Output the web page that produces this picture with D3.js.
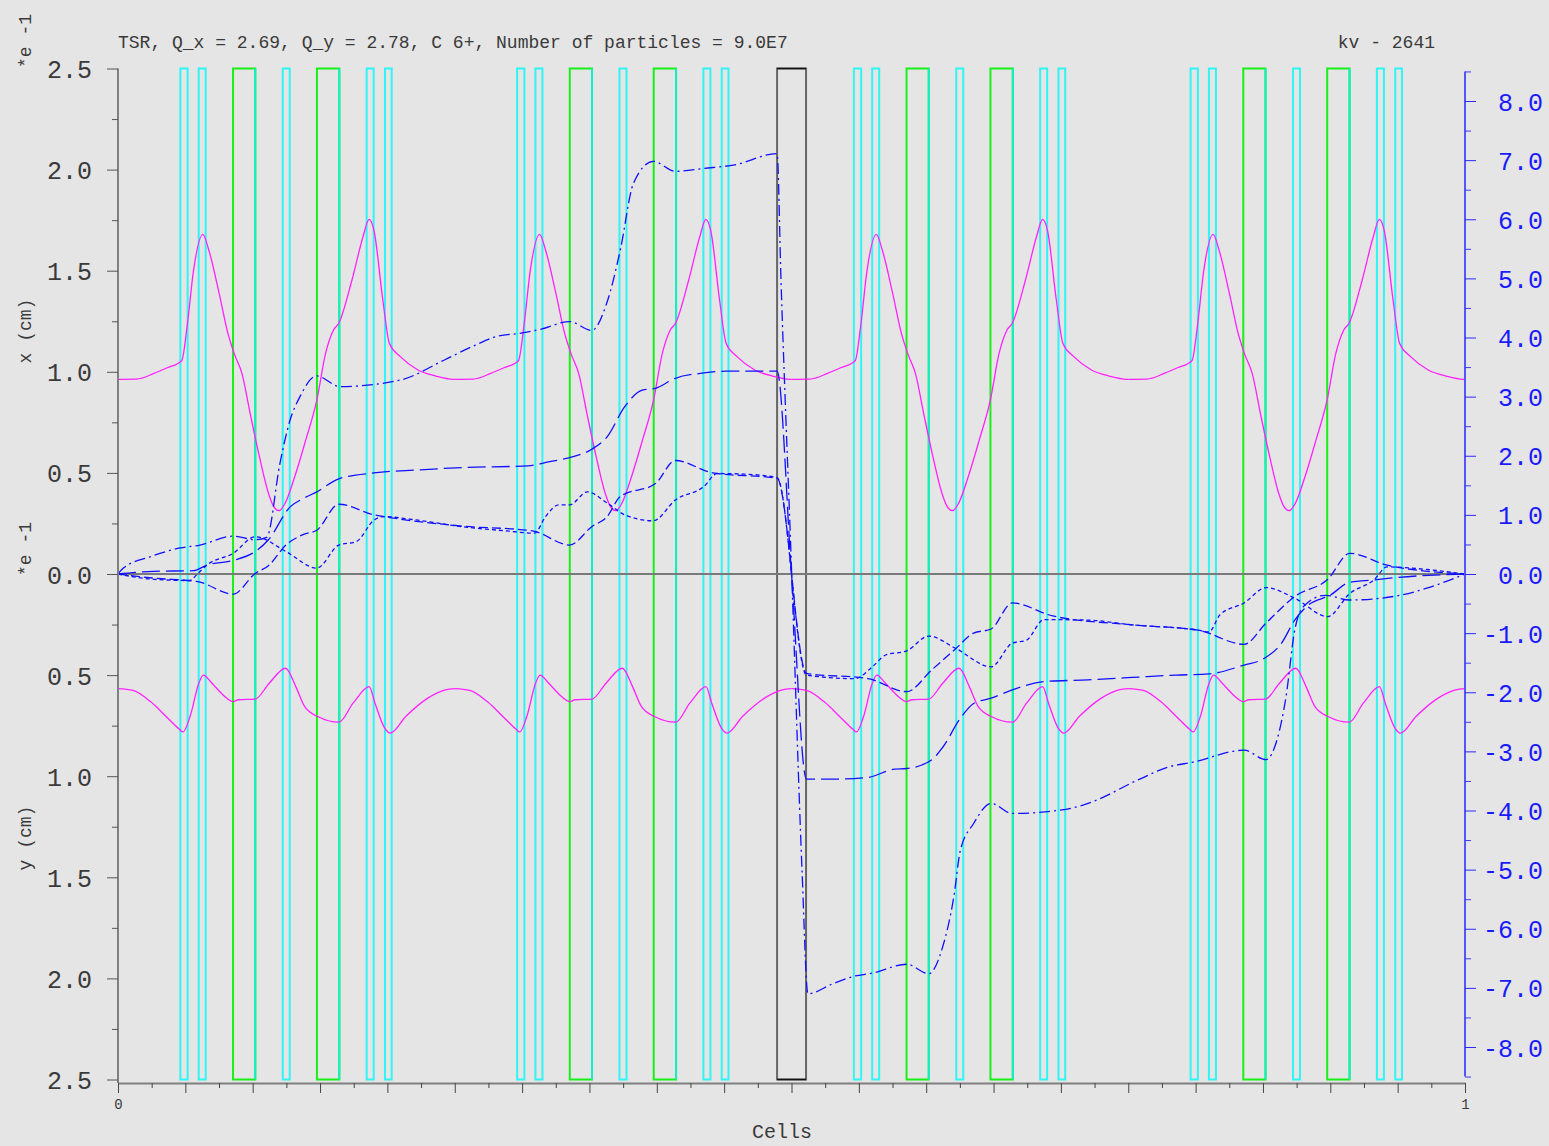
<!DOCTYPE html>
<meta charset="utf-8">
<head>
<style>
  body { margin: 0; background: #e5e5e5; }
  text { font-family: "Liberation Mono", "DejaVu Sans Mono", monospace; }
</style>
</head>
<body>
<div class="chart"></div>
<script src="https://d3js.org/d3.v7.min.js"></script>
<script>
// lattice: one cell, repeated 4 times around the ring
var cellOffsets = [0, 0.25, 0.5, 0.75];
var quadBoxes = [[0.0463, 0.0517], [0.0599, 0.0651], [0.1223, 0.1275], [0.1846, 0.1898], [0.1982, 0.2032]];
var dipoleBoxes = [[0.0854, 0.1019], [0.1477, 0.1643]];
var kickerBox = [0.4893, 0.5108];

// envelopes for one cell (e-1 cm)
var envX = [[0, 0.963], [0.0137, 0.964], [0.0267, 0.992], [0.0365, 1.02], [0.0473, 1.055], [0.0513, 1.223],
  [0.0561, 1.503], [0.063, 1.68], [0.0675, 1.6], [0.0751, 1.388], [0.0816, 1.19], [0.0865, 1.086], [0.092, 0.992],
  [0.0986, 0.778], [0.105, 0.58], [0.1117, 0.399], [0.1156, 0.333], [0.1195, 0.313], [0.124, 0.349], [0.1312, 0.481],
  [0.1394, 0.663], [0.1476, 0.86], [0.1541, 1.091], [0.16, 1.207], [0.1639, 1.24], [0.1737, 1.454], [0.1819, 1.668],
  [0.1864, 1.754], [0.19, 1.70], [0.1966, 1.355], [0.2015, 1.14], [0.2096, 1.075], [0.2227, 1.009], [0.2358, 0.979],
  [0.2488, 0.963], [0.25, 0.963]];
var envY = [[0, 0.567], [0.0111, 0.576], [0.0241, 0.631], [0.037, 0.713], [0.0454, 0.767], [0.0483, 0.781],
  [0.0535, 0.705], [0.06, 0.54], [0.0633, 0.50], [0.0698, 0.54], [0.078, 0.598], [0.0855, 0.631], [0.0894, 0.622],
  [0.1018, 0.619], [0.1123, 0.54], [0.1244, 0.466], [0.132, 0.557], [0.1385, 0.655], [0.1483, 0.705], [0.164, 0.733],
  [0.1745, 0.639], [0.1865, 0.557], [0.1908, 0.639], [0.198, 0.762], [0.2022, 0.787], [0.2136, 0.705], [0.23, 0.614],
  [0.243, 0.573], [0.25, 0.567]];

// orbit bumps (right axis)
var orbitDashDot = [[0, 0], [0.004, 0.1], [0.0237, 0.29], [0.0463, 0.44], [0.0608, 0.49], [0.0855, 0.64], [0.1019, 0.58],
  [0.1104, 0.62], [0.1203, 1.88], [0.1277, 2.6], [0.1351, 3.0], [0.1475, 3.35], [0.1648, 3.17], [0.2094, 3.28],
  [0.2423, 3.62], [0.2652, 3.87], [0.2815, 4.02], [0.2978, 4.07], [0.3141, 4.14], [0.3353, 4.27], [0.3517, 4.12],
  [0.3631, 4.6], [0.3729, 5.48], [0.3827, 6.61], [0.3974, 6.98], [0.4137, 6.81], [0.435, 6.86], [0.4578, 6.92],
  [0.4893, 7.11], [0.4922, 4.97], [0.5, 0.1], [0.5078, -5.0], [0.5122, -7.1], [0.5307, -6.93], [0.547, -6.8],
  [0.56, -6.75], [0.5855, -6.6], [0.6019, -6.76], [0.6123, -6.3], [0.6205, -5.46], [0.6254, -4.67], [0.6352, -4.22],
  [0.6482, -3.88], [0.6639, -4.05], [0.7038, -3.98], [0.7201, -3.88], [0.7593, -3.46], [0.7789, -3.27], [0.7984, -3.18],
  [0.836, -2.98], [0.8523, -3.14], [0.8605, -2.8], [0.8671, -2.08], [0.8736, -0.95], [0.8801, -0.55], [0.8964, -0.36],
  [0.9144, -0.44], [0.952, -0.36], [0.9716, -0.24], [1, 0]];
var orbitLongDash = [[0, 0], [0.0267, 0.045], [0.0561, 0.056], [0.0659, 0.15], [0.0855, 0.23], [0.1019, 0.38],
  [0.1117, 0.58], [0.128, 1.14], [0.1378, 1.28], [0.1476, 1.39], [0.1639, 1.61], [0.19, 1.71], [0.2227, 1.76],
  [0.2554, 1.8], [0.3044, 1.83], [0.3206, 1.9], [0.3353, 1.97], [0.3517, 2.11], [0.3631, 2.32], [0.3762, 2.83],
  [0.3892, 3.11], [0.399, 3.14], [0.4137, 3.31], [0.435, 3.4], [0.4513, 3.43], [0.4893, 3.43], [0.5, 0],
  [0.5111, -3.47], [0.5307, -3.47], [0.5568, -3.44], [0.5764, -3.3], [0.5855, -3.29], [0.6042, -3.14], [0.6123, -2.93],
  [0.6254, -2.44], [0.6352, -2.19], [0.6482, -2.1], [0.6639, -1.96], [0.6875, -1.82], [0.7201, -1.79], [0.7528, -1.75],
  [0.7854, -1.71], [0.8099, -1.69], [0.836, -1.54], [0.8508, -1.43], [0.8638, -1.17], [0.8736, -0.78], [0.8834, -0.53],
  [0.8998, -0.36], [0.9144, -0.14], [0.9324, -0.1], [0.9488, -0.06], [1, 0]];
var orbitDash = [[0, 0], [0.0267, -0.07], [0.0594, -0.13], [0.0855, -0.34], [0.1019, 0.01], [0.1117, 0.14],
  [0.1247, 0.49], [0.1378, 0.67], [0.1476, 0.74], [0.1639, 1.18], [0.19, 1.0], [0.2031, 0.95], [0.2554, 0.81],
  [0.3076, 0.73], [0.3353, 0.49], [0.3517, 0.8], [0.3631, 0.97], [0.3729, 1.31], [0.399, 1.53], [0.4137, 1.92],
  [0.4415, 1.71], [0.4893, 1.62], [0.5111, -1.68], [0.5568, -1.77], [0.5855, -1.99], [0.6042, -1.62], [0.6221, -1.26],
  [0.6352, -1.0], [0.6482, -0.93], [0.6639, -0.49], [0.694, -0.71], [0.7528, -0.86], [0.8018, -0.95], [0.836, -1.19],
  [0.8523, -0.83], [0.8736, -0.38], [0.8981, -0.09], [0.9144, 0.35], [0.9422, 0.15], [1, 0]];
var orbitShortDash = [[0, 0], [0.0267, -0.09], [0.0529, -0.11], [0.0594, 0.01], [0.0659, 0.15], [0.0855, 0.35],
  [0.1019, 0.63], [0.1247, 0.38], [0.1476, 0.1], [0.1639, 0.49], [0.177, 0.55], [0.19, 0.91], [0.1966, 0.97],
  [0.2227, 0.91], [0.2554, 0.8], [0.288, 0.73], [0.3092, 0.69], [0.3174, 0.97], [0.3272, 1.17], [0.3353, 1.17],
  [0.3484, 1.39], [0.3631, 1.2], [0.3762, 1.0], [0.3974, 0.9], [0.4137, 1.25], [0.435, 1.48], [0.4448, 1.7],
  [0.4644, 1.69], [0.4893, 1.63], [0.5111, -1.71], [0.547, -1.77], [0.56, -1.57], [0.5699, -1.37], [0.5855, -1.3],
  [0.6019, -1.05], [0.6221, -1.26], [0.6482, -1.57], [0.6639, -1.17], [0.6744, -1.12], [0.6875, -0.77], [0.7201, -0.78],
  [0.7528, -0.86], [0.8018, -0.95], [0.8099, -0.98], [0.8181, -0.69], [0.836, -0.49], [0.8523, -0.23], [0.8736, -0.41],
  [0.8981, -0.72], [0.9144, -0.33], [0.9324, -0.1], [0.9422, 0.12], [0.965, 0.09], [1, 0]];

var leftTicks = [-2.5, -2, -1.5, -1, -0.5, 0, 0.5, 1, 1.5, 2, 2.5];
var rightTicks = [-8, -7, -6, -5, -4, -3, -2, -1, 0, 1, 2, 3, 4, 5, 6, 7, 8];
var titleText = "TSR, Q_x = 2.69, Q_y = 2.78, C 6+, Number of particles = 9.0E7";
var runText = "kv - 2641";

var width = 1549, height = 1146;

var svg = d3.select(".chart").append("svg")
  .attr("width", width)
  .attr("height", height);

svg.append("rect").attr("width", width).attr("height", height).attr("fill", "#e5e5e5");

var x = d3.scaleLinear().domain([0, 1]).range([118, 1465]);
var yL = d3.scaleLinear().domain([-2.5, 2.5]).range([1079.5, 68.5]);
var yR = d3.scaleLinear().domain([-8.5, 8.5]).range([574 + 8.5 * 59.125, 574 - 8.5 * 59.125]);

// 要素の箱
var boxes = svg.append("g");
cellOffsets.forEach(function (off) {
  quadBoxes.forEach(function (b) {
    boxes.append("rect")
      .attr("x", x(off + b[0])).attr("y", yL(2.5))
      .attr("width", x(off + b[1]) - x(off + b[0])).attr("height", yL(-2.5) - yL(2.5))
      .attr("fill", "none").attr("stroke", "#2ff5f5").attr("stroke-width", 2);
  });
  dipoleBoxes.forEach(function (b) {
    boxes.append("rect")
      .attr("x", x(off + b[0])).attr("y", yL(2.5))
      .attr("width", x(off + b[1]) - x(off + b[0])).attr("height", yL(-2.5) - yL(2.5))
      .attr("fill", "none").attr("stroke", "#18f018").attr("stroke-width", 2);
    boxes.append("line")
      .attr("x1", x(off + b[1])).attr("x2", x(off + b[1]))
      .attr("y1", yL(2.5)).attr("y2", yL(-2.5))
      .attr("stroke", "#10f0c8").attr("stroke-width", 2);
  });
});
boxes.append("rect")
  .attr("x", x(kickerBox[0])).attr("y", yL(2.5))
  .attr("width", x(kickerBox[1]) - x(kickerBox[0])).attr("height", yL(-2.5) - yL(2.5))
  .attr("fill", "none").attr("stroke", "#666").attr("stroke-width", 2);
[yL(2.5), yL(-2.5)].forEach(function (yy) {
  boxes.append("line").attr("x1", x(kickerBox[0])).attr("x2", x(kickerBox[1]))
    .attr("y1", yy).attr("y2", yy).attr("stroke", "#111").attr("stroke-width", 1.5);
});

// ゼロ線
svg.append("line")
  .attr("x1", x(0)).attr("x2", x(1)).attr("y1", yL(0)).attr("y2", yL(0))
  .attr("stroke", "#7a7a7a").attr("stroke-width", 2);

// 包絡線
var envLineTop = d3.line().curve(d3.curveMonotoneX)
  .x(function (d) { return x(d[0]); }).y(function (d) { return yL(d[1]); });
var envLineBot = d3.line().curve(d3.curveMonotoneX)
  .x(function (d) { return x(d[0]); }).y(function (d) { return yL(-d[1]); });
cellOffsets.forEach(function (off) {
  var shiftedX = envX.map(function (d) { return [d[0] + off, d[1]]; });
  var shiftedY = envY.map(function (d) { return [d[0] + off, d[1]]; });
  svg.append("path").attr("d", envLineTop(shiftedX))
    .attr("fill", "none").attr("stroke", "#ff22ff").attr("stroke-width", 1.3);
  svg.append("path").attr("d", envLineBot(shiftedY))
    .attr("fill", "none").attr("stroke", "#ff22ff").attr("stroke-width", 1.3);
});

// 軌道
var orbitLine = d3.line().curve(d3.curveMonotoneX)
  .x(function (d) { return x(d[0]); }).y(function (d) { return yR(d[1]); });
var orbits = [
  { data: orbitDashDot, dash: "11,4,2,4" },
  { data: orbitLongDash, dash: "18,6" },
  { data: orbitDash, dash: "9,4" },
  { data: orbitShortDash, dash: "4,3" }
];
orbits.forEach(function (o) {
  svg.append("path").attr("d", orbitLine(o.data))
    .attr("fill", "none").attr("stroke", "#1010ff").attr("stroke-width", 1.3)
    .attr("stroke-dasharray", o.dash);
});

// 左軸
var leftAxis = svg.append("g").attr("transform", "translate(118,0)")
  .call(d3.axisLeft(yL).tickValues(leftTicks).tickSize(11).tickSizeOuter(0).tickPadding(15)
    .tickFormat(function (d) { return Math.abs(d).toFixed(1); }));
svg.append("g").attr("transform", "translate(118,0)")
  .call(d3.axisLeft(yL).tickValues(d3.range(-2.25, 2.3, 0.5)).tickSize(6).tickSizeOuter(0).tickFormat(""))
  .select(".domain").remove();
leftAxis.select(".domain").attr("stroke", "#808080").attr("stroke-width", 2)
  .attr("d", "M0," + yL(2.5) + "V1083");
svg.selectAll("g .tick line").attr("stroke", "#555");
leftAxis.selectAll("text").attr("font-size", 25).attr("fill", "#3a3a3a")
  .attr("font-family", "Liberation Mono").attr("dy", "0.36em");

// 右軸
var rightAxis = svg.append("g").attr("transform", "translate(1465,0)")
  .call(d3.axisRight(yR).tickValues(rightTicks).tickSize(11).tickSizeOuter(0)
    .tickFormat(function (d) { return d.toFixed(1); }));
var rightMinor = svg.append("g").attr("transform", "translate(1465,0)")
  .call(d3.axisRight(yR).tickValues(d3.range(-8.5, 8.6, 1)).tickSize(6).tickSizeOuter(0).tickFormat(""));
rightMinor.select(".domain").remove();
rightMinor.selectAll("line").attr("stroke", "#3a3aff");
rightAxis.select(".domain").attr("stroke", "#5555ff").attr("stroke-width", 2)
  .attr("d", "M0," + yR(8.5) + "V" + yR(-8.5));
rightAxis.selectAll("line").attr("stroke", "#2a2aff");
rightAxis.selectAll("text").attr("font-size", 25).attr("fill", "#1a1aff")
  .attr("font-family", "Liberation Mono").attr("text-anchor", "end").attr("x", 78).attr("dy", "0.36em");

// 下軸
var bottomAxis = svg.append("g").attr("transform", "translate(0,1083)")
  .call(d3.axisBottom(x).tickValues(d3.range(0, 1.001, 0.05)).tickSize(10).tickSizeOuter(0)
    .tickFormat(function (d) { return (d === 0 || d > 0.999) ? d3.format("d")(Math.round(d)) : ""; }));
var bottomMinor = svg.append("g").attr("transform", "translate(0,1083)")
  .call(d3.axisBottom(x).tickValues(d3.range(0.025, 1, 0.05)).tickSize(5).tickSizeOuter(0).tickFormat(""));
bottomMinor.select(".domain").remove();
bottomMinor.selectAll("line").attr("stroke", "#444");
bottomAxis.select(".domain").attr("stroke", "#808080").attr("stroke-width", 2);
bottomAxis.selectAll("line").attr("stroke", "#444");
bottomAxis.selectAll("text").attr("font-size", 14).attr("fill", "#3a3a3a")
  .attr("font-family", "Liberation Mono").attr("y", 16).attr("dy", "0.71em");

// ラベル
svg.append("text").attr("x", 118).attr("y", 48).attr("font-size", 18).attr("fill", "#3a3a3a").text(titleText);
svg.append("text").attr("x", 1435).attr("y", 48).attr("font-size", 18).attr("fill", "#3a3a3a")
  .attr("text-anchor", "end").text(runText);
svg.append("text").attr("x", 782).attr("y", 1138).attr("font-size", 20).attr("fill", "#3a3a3a")
  .attr("text-anchor", "middle").text("Cells");

function vlabel(txt, cx, cy, anchor) {
  svg.append("text").attr("transform", "translate(" + cx + "," + cy + ") rotate(-90)")
    .attr("font-size", 18).attr("fill", "#3a3a3a").attr("text-anchor", anchor).text(txt);
}
vlabel("*e -1", 31, 68, "start");
vlabel("*e -1", 31, 576, "start");
vlabel("x (cm)", 31, 331, "middle");
vlabel("y (cm)", 31, 838, "middle");
</script>
</body>
